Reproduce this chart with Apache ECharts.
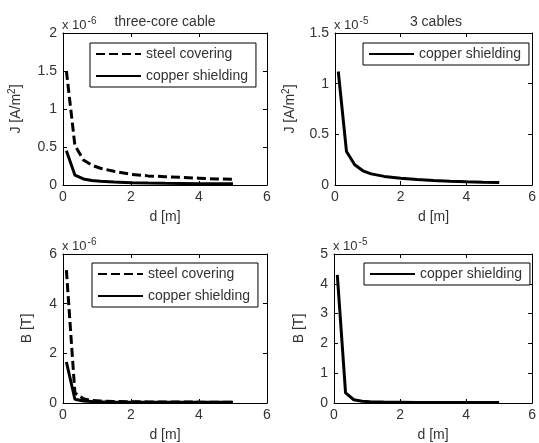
<!DOCTYPE html>
<html>
<head>
<meta charset="utf-8">
<style>
  html, body { margin: 0; padding: 0; background: #fff; }
  #chart { width: 539px; height: 443px; }
</style>
<script src="https://cdn.jsdelivr.net/npm/echarts@6/dist/echarts.min.js"></script>
</head>
<body>
<div id="chart"></div>
<script>
// distance d [m] where the curves are sampled
const dist = [0.1, 0.35, 0.6, 0.85, 1.1, 1.5, 2, 2.5, 3, 3.5, 4, 4.5, 5];

// J, three-core cable (x 1e-6)
const jSteelCore = [1.5, 0.52, 0.33, 0.26, 0.22, 0.18, 0.14, 0.12, 0.11, 0.1, 0.09, 0.08, 0.075];
const jCopperCore = [0.45, 0.13, 0.08, 0.06, 0.05, 0.04, 0.03, 0.025, 0.022, 0.02, 0.018, 0.016, 0.015];
// J, 3 cables (x 1e-5)
const jCopper3 = [1.12, 0.33, 0.2, 0.14, 0.11, 0.085, 0.066, 0.055, 0.045, 0.038, 0.032, 0.028, 0.025];
// B, three-core cable (x 1e-6)
const bSteelCore = [5.35, 0.4, 0.17, 0.1, 0.08, 0.06, 0.05, 0.045, 0.04, 0.04, 0.035, 0.035, 0.03];
const bCopperCore = [1.65, 0.15, 0.08, 0.06, 0.05, 0.04, 0.035, 0.03, 0.03, 0.03, 0.03, 0.03, 0.03];
// B, 3 cables (x 1e-5)
const bCopper3 = [4.3, 0.34, 0.11, 0.06, 0.04, 0.03, 0.025, 0.02, 0.02, 0.02, 0.02, 0.02, 0.02];

// axis ranges [min, max, interval]
const xRange = [0, 6, 2];
const yRanges = [[0, 2, 0.5], [0, 1.5, 0.5], [0, 6, 2], [0, 5, 1]];
const exponents = ['-6', '-5', '-6', '-5'];
const titles = ['three-core cable', '3 cables', '', ''];
const yNames = ['{a|J [A/m}{s|2}{a|]}', '{a|J [A/m}{s|2}{a|]}', 'B [T]', 'B [T]'];

const font = 'Liberation Sans, Arial, sans-serif';
const txt = '#333';

const grids = [
  { left: 63, top: 33, width: 204, height: 152 },
  { left: 335, top: 33, width: 202, height: 152 },
  { left: 63, top: 254, width: 204, height: 150 },
  { left: 334, top: 254, width: 203, height: 149 }
];
const yNameGap = [38, 36, 29, 28];

const xAxes = [];
const yAxes = [];
grids.forEach((g, i) => {
  // bottom / left axes with labels
  xAxes.push({
    gridIndex: i, type: 'value', min: xRange[0], max: xRange[1], interval: xRange[2],
    name: 'd [m]', nameLocation: 'middle', nameGap: 25,
    nameTextStyle: { fontFamily: font, fontSize: 14, color: txt },
    axisLine: { lineStyle: { color: '#000', width: 1 } },
    axisTick: { inside: true, length: 4, lineStyle: { color: '#000' } },
    axisLabel: { fontFamily: font, fontSize: 14, color: txt, margin: 5 },
    splitLine: { show: false }
  });
  // top axis (box)
  xAxes.push({
    gridIndex: i, type: 'value', position: 'top', min: xRange[0], max: xRange[1], interval: xRange[2],
    axisLine: { onZero: false, lineStyle: { color: '#000', width: 1 } },
    axisTick: { inside: true, length: 4, lineStyle: { color: '#000' } },
    axisLabel: { show: false }, splitLine: { show: false }
  });
  const r = yRanges[i];
  yAxes.push({
    gridIndex: i, type: 'value', min: r[0], max: r[1], interval: r[2],
    name: yNames[i], nameLocation: 'middle', nameGap: yNameGap[i], nameRotate: 90,
    nameTextStyle: {
      fontFamily: font, fontSize: 14, color: txt,
      rich: {
        a: { fontFamily: font, fontSize: 14, color: txt },
        s: { fontFamily: font, fontSize: 10, color: txt, padding: [0, 0, 8, 0] }
      }
    },
    axisLine: { show: true, lineStyle: { color: '#000', width: 1 } },
    axisTick: { show: true, inside: true, length: 4, lineStyle: { color: '#000' } },
    axisLabel: { fontFamily: font, fontSize: 14, color: txt, margin: 6 },
    splitLine: { show: false }
  });
  yAxes.push({
    gridIndex: i, type: 'value', position: 'right', min: r[0], max: r[1], interval: r[2],
    axisLine: { show: true, onZero: false, lineStyle: { color: '#000', width: 1 } },
    axisTick: { show: true, inside: true, length: 4, lineStyle: { color: '#000' } },
    axisLabel: { show: false }, splitLine: { show: false }
  });
});

function pairs(vals) {
  return dist.map((d, k) => [d, vals[k]]);
}

function line(name, grid, vals, dashed) {
  return {
    name: name, type: 'line', xAxisIndex: grid * 2, yAxisIndex: grid * 2,
    data: pairs(vals), symbol: 'none', animation: false,
    lineStyle: { color: '#000', width: 3, type: dashed ? [9, 4] : 'solid' },
    itemStyle: { color: '#000' }
  };
}

const series = [
  line('steel covering', 0, jSteelCore, true),
  line('copper shielding', 0, jCopperCore, false),
  line('copper shielding', 1, jCopper3, false),
  line('steel covering', 2, bSteelCore, true),
  line('copper shielding', 2, bCopperCore, false),
  line('copper shielding', 3, bCopper3, false)
];

function legend(left, top, names) {
  return {
    left: left, top: top, orient: 'vertical', data: names,
    itemWidth: 45, itemHeight: 14, itemGap: 8,
    padding: [4, 8, 4, 5],
    backgroundColor: '#fff', borderColor: '#000', borderWidth: 1, borderRadius: 0,
    itemStyle: { opacity: 0 },
    textStyle: { fontFamily: font, fontSize: 14, color: txt },
    selectedMode: false
  };
}

const legends = [
  legend(90, 43, ['steel covering', 'copper shielding']),
  legend(363, 43, ['copper shielding']),
  legend(92, 263, ['steel covering', 'copper shielding']),
  legend(364, 263, ['copper shielding'])
];

// "x 10^n" multipliers and panel titles
const graphics = [];
grids.forEach((g, i) => {
  graphics.push({
    type: 'text', left: g.left - 1, top: g.top - 17, silent: true,
    style: {
      text: '{b|x 10}{s|' + exponents[i] + '}',
      rich: {
        b: { fontFamily: font, fontSize: 13, fill: txt },
        s: { fontFamily: font, fontSize: 10, fill: txt, padding: [0, 0, 9, 1] }
      }
    }
  });
  if (titles[i]) {
    graphics.push({
      type: 'text', x: g.left + g.width / 2, y: g.top - 11, silent: true,
      style: {
        text: titles[i], fontFamily: font, fontSize: 14, fill: txt,
        align: 'center', verticalAlign: 'middle'
      }
    });
  }
});

const chart = echarts.init(document.getElementById('chart'));
chart.setOption({
  backgroundColor: '#fff',
  animation: false,
  grid: grids,
  xAxis: xAxes,
  yAxis: yAxes,
  legend: legends,
  graphic: graphics,
  series: series
});
</script>
</body>
</html>
